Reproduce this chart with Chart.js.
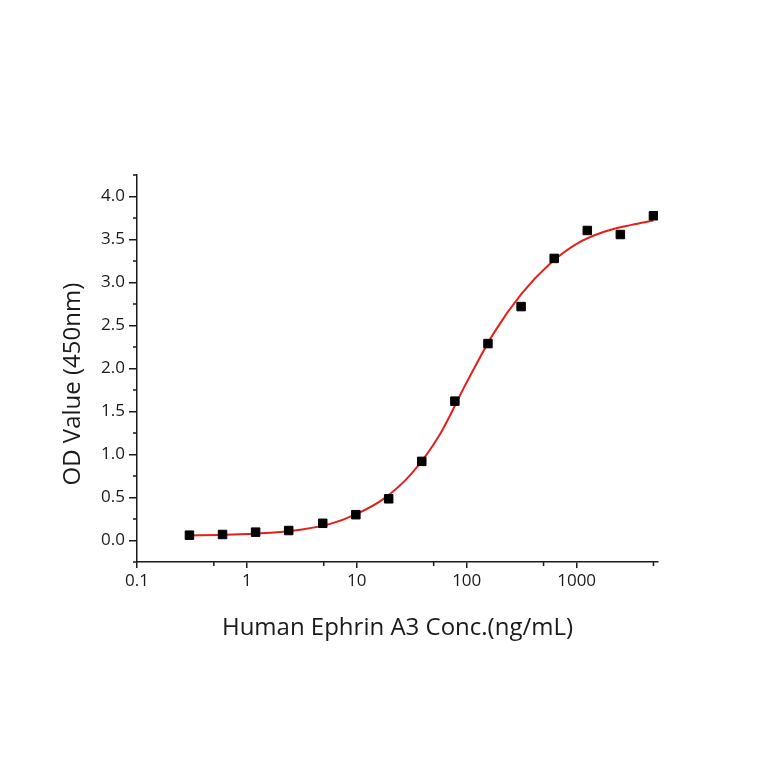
<!DOCTYPE html>
<html>
<head>
<meta charset="utf-8">
<script src="https://cdn.jsdelivr.net/npm/chart.js@4"></script>
<style>
  html, body { margin: 0; padding: 0; background: #fff; }
  #chart { display: block; }
</style>
</head>
<body>
<canvas id="chart" width="764" height="764"></canvas>
<script>
// measured points
const conc = [0.3, 0.6, 1.2, 2.4, 4.9, 9.8, 19.5, 39, 78, 156, 312.5, 625, 1250, 2500, 5000];
const od = [0.062, 0.070, 0.097, 0.116, 0.20, 0.30, 0.485, 0.92, 1.62, 2.29, 2.72, 3.28, 3.605, 3.558, 3.776];

// fitted curve, every quarter decade
const fitConc = [0.3, 0.562, 1, 1.78, 3.16, 5.62, 10, 17.8, 31.6, 56.2, 100, 178, 316, 562, 1000, 1780, 3160, 5000];
const fitOD = [0.058, 0.065, 0.076, 0.092, 0.128, 0.19, 0.31, 0.49, 0.78, 1.22, 1.84, 2.42, 2.87, 3.21, 3.45, 3.59, 3.67, 3.72];

const xTicks = [0.1, 1, 10, 100, 1000];
const xTickLabels = ["0.1", "1", "10", "100", "1000"];
const yTicks = [0, 0.5, 1, 1.5, 2, 2.5, 3, 3.5, 4];
const xMinor = [0.5, 5, 50, 500, 5000];
const yMinor = [-0.25, 0.25, 0.75, 1.25, 1.75, 2.25, 2.75, 3.25, 3.75, 4.25];

const ink = "#1a1a1a";
const font = "'Open Sans', 'DejaVu Sans', sans-serif";

/* small outward minor ticks */
const minorTicks = {
  id: "minorTicks",
  afterDraw(chart) {
    const { ctx, chartArea, scales } = chart;
    ctx.save();
    ctx.strokeStyle = ink;
    ctx.lineWidth = 1.5;
    ctx.beginPath();
    xMinor.forEach(v => {
      const px = scales.x.getPixelForValue(v);
      ctx.moveTo(px, chartArea.bottom);
      ctx.lineTo(px, chartArea.bottom + 4);
    });
    yMinor.forEach(v => {
      const py = scales.y.getPixelForValue(v);
      ctx.moveTo(chartArea.left, py);
      ctx.lineTo(chartArea.left - 4, py);
    });
    ctx.stroke();
    ctx.restore();
  }
};

new Chart(document.getElementById("chart"), {
  data: {
    datasets: [
      {
        type: "scatter",
        label: "OD",
        data: conc.map((c, i) => ({ x: c, y: od[i] })),
        pointStyle: "rect",
        pointRadius: 6,
        backgroundColor: "#000",
        borderColor: "#000",
        order: 0
      },
      {
        type: "line",
        label: "Fit",
        data: fitConc.map((c, i) => ({ x: c, y: fitOD[i] })),
        borderColor: "#e3211c",
        borderWidth: 2,
        pointRadius: 0,
        fill: false,
        cubicInterpolationMode: "monotone",
        order: 1
      }
    ]
  },
  options: {
    responsive: false,
    animation: false,
    layout: { padding: { left: 59, right: 106, top: 175, bottom: 121 } },
    plugins: { legend: { display: false }, tooltip: { enabled: false } },
    scales: {
      x: {
        type: "logarithmic",
        position: "bottom",
        min: 0.1,
        max: 5500,
        afterBuildTicks: s => { s.ticks = xTicks.map(v => ({ value: v })); },
        afterFit: s => { s.height = 81; },
        border: { color: ink, width: 1.5 },
        grid: { drawOnChartArea: false, tickLength: 6, color: ink, lineWidth: 1.5 },
        ticks: {
          color: ink,
          font: { family: font, size: 17 },
          padding: 3,
          autoSkip: false,
          maxRotation: 0,
          callback: v => xTickLabels[xTicks.indexOf(v)]
        },
        title: {
          display: true,
          text: "Human Ephrin A3 Conc.(ng/mL)",
          color: ink,
          font: { family: font, size: 24 },
          padding: 0
        }
      },
      y: {
        type: "linear",
        min: -0.25,
        max: 4.25,
        afterBuildTicks: s => { s.ticks = yTicks.map(v => ({ value: v })); },
        afterFit: s => { s.width = 78; },
        border: { color: ink, width: 1.5 },
        grid: { drawOnChartArea: false, tickLength: 8, color: ink, lineWidth: 1.5 },
        ticks: {
          color: ink,
          font: { family: font, size: 17 },
          padding: 4,
          callback: v => v.toFixed(1)
        },
        title: {
          display: true,
          text: "OD Value (450nm)\u00a0\u00a0\u00a0\u00a0\u00a0",
          color: ink,
          font: { family: font, size: 24 },
          padding: 0
        }
      }
    }
  },
  plugins: [minorTicks]
});
</script>
</body>
</html>
